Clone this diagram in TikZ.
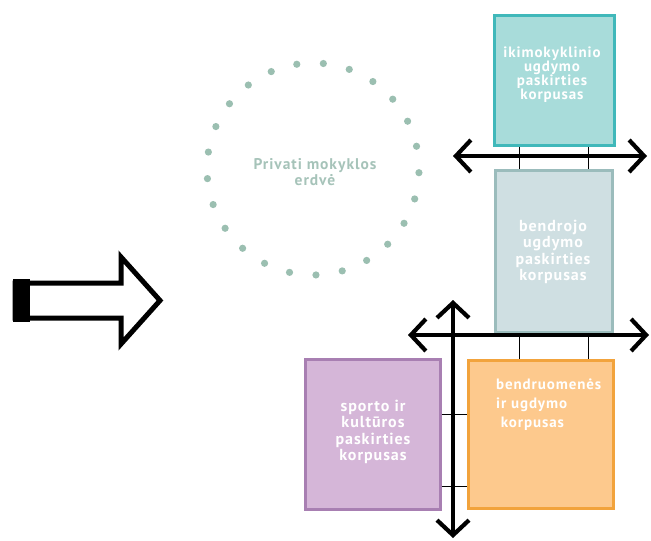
\documentclass[tikz,border=0pt]{standalone}
\usepackage{fontspec}
\setmainfont{PT Sans}
\newfontfamily\dinfont[LetterSpace=6]{PT Sans}
\usetikzlibrary{arrows.meta}

\definecolor{dotgreen}{RGB}{155,191,177}
\definecolor{dottext}{RGB}{166,195,185}
\definecolor{tealfill}{RGB}{168,220,218}
\definecolor{tealline}{RGB}{64,184,186}
\definecolor{greyfill}{RGB}{207,223,226}
\definecolor{greyline}{RGB}{155,188,188}
\definecolor{lilafill}{RGB}{213,182,216}
\definecolor{lilaline}{RGB}{168,127,178}
\definecolor{oranfill}{RGB}{253,201,141}
\definecolor{oranline}{RGB}{242,163,60}

\tikzset{
  blok/.style={draw, line width=3pt, inner sep=0pt, anchor=north west},
  bar/.style={line width=4.2pt, {Straight Barb[length=15pt,width=32pt]}-{Straight Barb[length=15pt,width=32pt]}},
  tick/.style={line width=1.7pt},
  lbl/.style={text=white, font=\dinfont\bfseries\fontsize{16}{16.5}\selectfont, align=center, inner sep=0pt},
}

\begin{document}
\begin{tikzpicture}[x=1pt, y=-1pt]
    \useasboundingbox (0,0) rectangle (651,541);

    \draw[line width=5pt, line join=miter] (15,283) -- (121,283) -- (121,257) -- (160,300.5) -- (121,344) -- (121,318) -- (15,318) -- cycle;
    \fill (13,279) rectangle (30,322);

    \foreach \i in {0,...,24}
      \fill[dotgreen] (313,169) ++({2+\i*14.4}:106) circle (3.6);
    \node[font=\dinfont\bfseries\fontsize{15.5}{16}\selectfont, text=dottext, align=center, inner sep=0pt] (erdve) at (315,172) {Privati mokyklos\\erdvė};

    \node[blok, fill=tealfill, draw=tealline, minimum width=120, minimum height=130] (ikimok) at (492.5,13.5) {};
    \node[blok, fill=greyfill, draw=greyline, minimum width=117, minimum height=162] (bendr) at (493.5,168.5) {};
    \node[blok, fill=lilafill, draw=lilaline, minimum width=135, minimum height=150] (sport) at (303.5,357.5) {};
    \node[blok, fill=oranfill, draw=oranline, minimum width=145, minimum height=148] (bendruom) at (466.5,358.5) {};

    \node[lbl, font=\dinfont\bfseries\fontsize{15}{14}\selectfont] (ikimoktxt) at (552,75) {ikimokyklinio\\ugdymo\\paskirties\\korpusas};
    \node[lbl] (bendrtxt) at (553,252) {bendrojo\\ugdymo\\paskirties\\korpusas};
    \node[lbl] (sporttxt) at (373,432) {sporto ir\\kultūros\\paskirties\\korpusas};
    \node[lbl, font=\dinfont\bfseries\fontsize{15}{19}\selectfont, align=left, anchor=west] (bendruomtxt) at (496,405) {bendruomenės\\ ir ugdymo\\ \ korpusas};

    \draw[tick] ([xshift=-34.5pt]ikimok.south) -- ([xshift=-34.5pt]ikimok.south |- bendr.north);
    \draw[tick] ([xshift=34.5pt]ikimok.south) -- ([xshift=34.5pt]ikimok.south |- bendr.north);
    \draw[tick] ([xshift=-34pt]bendr.south) -- ([xshift=-34pt]bendr.south |- bendruom.north);
    \draw[tick] ([xshift=35pt]bendr.south) -- ([xshift=35pt]bendr.south |- bendruom.north);
    \draw[tick] ([yshift=19.5pt]sport.east) -- ([yshift=19.5pt]sport.east -| bendruom.west);
    \draw[tick] ([yshift=-52.5pt]sport.east) -- ([yshift=-52.5pt]sport.east -| bendruom.west);

    \coordinate (topl) at (453,156);
    \coordinate (topr) at (647,156);
    \coordinate (midl) at (408,335);
    \coordinate (midr) at (649,335);
    \coordinate (vtop) at (453,300);
    \coordinate (vbot) at (453,538);
    \draw[bar] (topl) -- (topr);
    \draw[bar] (midl) -- (midr);
    \draw[bar] (vtop) -- (vbot);
\end{tikzpicture}
\end{document}
